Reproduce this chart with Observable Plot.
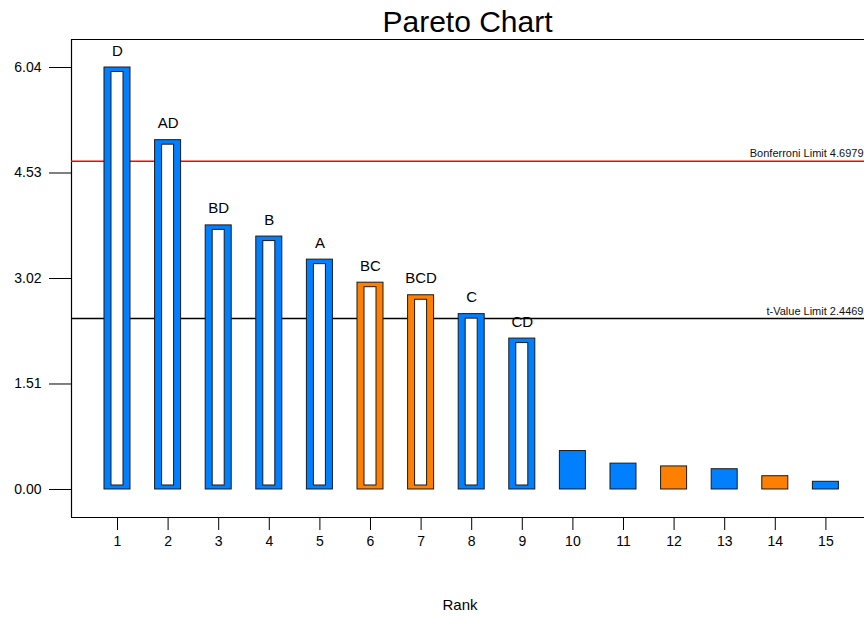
<!DOCTYPE html>
<html>
<head>
<meta charset="utf-8">
<script src="https://cdn.jsdelivr.net/npm/d3@7"></script>
<script src="https://cdn.jsdelivr.net/npm/@observablehq/plot@0.6"></script>
<style>
  body { margin: 0; background: #fff; font-family: "Liberation Sans", Arial, sans-serif; }
  #wrap { position: relative; width: 864px; height: 617px; overflow: hidden; }
  #title { position: absolute; left: 71px; top: 0; width: 793px; height: 38px; line-height: 43px;
           text-align: center; font-size: 30px; color: #000; }
  #chart { position: absolute; left: 0; top: 38px; }
  #xlabel { position: absolute; left: 0; top: 595px; width: 920px; text-align: center;
            font-size: 15px; line-height: 20px; color: #000; }
</style>
</head>
<body>
<div id="wrap">
  <div id="title">Pareto Chart</div>
  <div id="chart"></div>
  <div id="xlabel">Rank</div>
</div>
<script>
// Effects ranked by absolute t-value
const ranks   = [1, 2, 3, 4, 5, 6, 7, 8, 9, 10, 11, 12, 13, 14, 15];
const effects = ["D", "AD", "BD", "B", "A", "BC", "BCD", "C", "CD", "", "", "", "", "", ""];
const tValues = [6.04, 5.00, 3.78, 3.62, 3.29, 2.96, 2.78, 2.51, 2.16, 0.55, 0.37, 0.33, 0.29, 0.19, 0.11];
const signs   = ["+", "+", "+", "+", "+", "-", "-", "+", "+", "+", "+", "-", "+", "-", "+"];

// Reference limits
const limitNames  = ["Bonferroni Limit", "t-Value Limit"];
const limitValues = [4.6979, 2.4469];
const limitColors = ["#ff0000", "#000000"];

// Axis ticks
const yTicks = [0, 1.51, 3.02, 4.53, 6.04];
const xTicks = ranks;

const xMin = 0.091, xMax = 15.763;
const yMin = -0.401, yMax = 6.441;
const halfWidth = 0.257;

const bars = ranks.map((r, i) => ({
  rank: r, effect: effects[i], t: tValues[i],
  positive: signs[i] === "+", hollow: effects[i] !== ""
}));
const limits = limitNames.map((n, i) => ({name: n, value: limitValues[i], color: limitColors[i]}));

const chart = Plot.plot({
  width: 864,
  height: 530,
  marginTop: 1,
  marginLeft: 71,
  marginRight: 0,
  marginBottom: 51,
  style: { fontFamily: "'Liberation Sans', Arial, sans-serif", fontSize: "14px", color: "#000", background: "#fff" },
  x: { type: "linear", domain: [xMin, xMax] },
  y: { type: "linear", domain: [yMin, yMax] },
  marks: [
    Plot.axisY({ ticks: yTicks, tickFormat: d3.format(".2f"), tickSize: 22, tickPadding: 8, label: null, fontSize: 14 }),
    Plot.axisX({ ticks: xTicks, tickFormat: d3.format("d"), tickSize: 13, tickPadding: 6, label: null, fontSize: 14 }),
    // plot frame: top, bottom and left edges
    Plot.ruleY([yMax], { stroke: "#000", strokeWidth: 1.2 }),
    Plot.ruleY([yMin], { stroke: "#000", strokeWidth: 1.2 }),
    Plot.ruleX([xMin], { stroke: "#000", strokeWidth: 1.2 }),
    // limit lines
    Plot.ruleY(limits, { y: "value", stroke: "color", strokeWidth: 1.6 }),
    // bars
    Plot.rect(bars, {
      x1: d => d.rank - halfWidth, x2: d => d.rank + halfWidth,
      y1: 0, y2: "t",
      fill: d => d.positive ? "#0080ff" : "#ff8000",
      stroke: "#1a1a1a", strokeWidth: 1
    }),
    // hollow centre of the larger bars
    Plot.rect(bars.filter(d => d.hollow), {
      x1: d => d.rank - halfWidth, x2: d => d.rank + halfWidth,
      y1: 0, y2: "t",
      insetLeft: 7, insetRight: 7, insetTop: 4.5, insetBottom: 4,
      fill: "#fff", stroke: "#1a1a1a", strokeWidth: 1
    }),
    // effect names above bars
    Plot.text(bars.filter(d => d.hollow), {
      x: "rank", y: "t", text: "effect",
      lineAnchor: "bottom", dy: -12, fontSize: 15, fill: "#000"
    }),
    // limit labels
    Plot.text(limits, {
      x: xMax, y: "value", text: d => `${d.name} ${d.value.toFixed(4)}`,
      textAnchor: "end", lineAnchor: "bottom", dx: -1, dy: -4, fontSize: 11, fill: "#111"
    })
  ]
});
document.getElementById("chart").appendChild(chart);
</script>
</body>
</html>
